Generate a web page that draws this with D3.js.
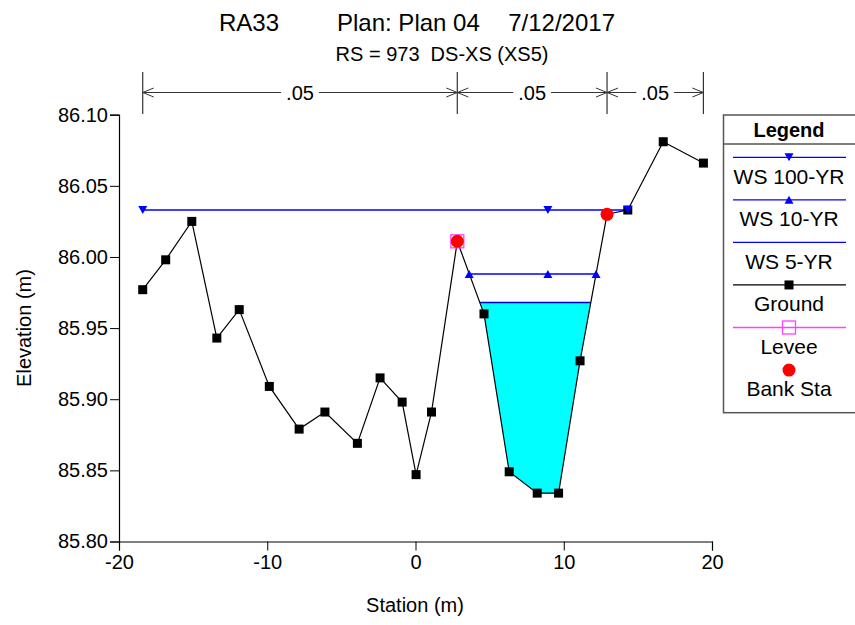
<!DOCTYPE html>
<html><head><meta charset="utf-8">
<script src="https://cdn.jsdelivr.net/npm/d3@7"></script>
<style>body{margin:0;background:#fff} text{font-family:"Liberation Sans",Arial,sans-serif}</style>
</head><body>
<svg id="c" width="855" height="625"></svg>
<script>
// ---- data ----
const groundStation=[-18.40,-16.85,-15.09,-13.40,-11.89,-9.86,-7.85,-6.11,-3.92,-2.39,-0.90,0.04,1.08,2.82,4.62,6.32,8.21,9.65,11.10,12.92,14.32,16.71,19.42];
const groundElev=[85.977,85.998,86.025,85.943,85.963,85.909,85.879,85.891,85.869,85.915,85.898,85.847,85.891,86.011,85.960,85.849,85.834,85.834,85.927,86.030,86.033,86.081,86.066];
const wsNames=["WS 100-YR","WS 10-YR","WS 5-YR"];
const wsElev=[86.033,85.988,85.968];
const wsStart=[-18.40,3.62,4.33];
const wsEnd=[14.32,12.18,11.83];
const wsMarkerStations=[[-18.40,8.93,14.32],[3.62,8.93,12.18],[]];
const wsMarkerType=["down","up","none"];
const leveeStation=[2.82];
const leveeElev=[86.011];
const bankStation=[2.82,12.92];
const bankElev=[86.011,86.030];
const nStations=[-18.40,2.82,12.92,19.42];
const nValues=[".05",".05",".05"];
const xTicks=[-20,-10,0,10,20];
const yTicks=[85.80,85.85,85.90,85.95,86.00,86.05,86.10];
const legendNames=["WS 100-YR","WS 10-YR","WS 5-YR","Ground","Levee","Bank Sta"];

// ---- setup ----
const svg=d3.select("#c");
const x=d3.scaleLinear().domain([-20,20]).range([119,712]);
const y=d3.scaleLinear().domain([85.80,86.10]).range([541.5,114.7]);
const FONT=20;

// titles
svg.append("text").attr("x",219).attr("y",31).attr("font-size",24).text("RA33");
svg.append("text").attr("x",337).attr("y",31).attr("font-size",24).text("Plan: Plan 04");
svg.append("text").attr("x",615).attr("y",31).attr("font-size",24).attr("text-anchor","end").text("7/12/2017");
svg.append("text").attr("x",442).attr("y",61).attr("font-size",20).attr("text-anchor","middle")
  .style("white-space","pre").attr("xml:space","preserve").text("RS = 973  DS-XS (XS5)");

// axes
const minorX=d3.range(-20,20.001,2);
const minorY=d3.range(0,31).map(i=>85.80+i*0.01);
const gx=svg.append("g").attr("transform",`translate(0,${y.range()[0]})`);
gx.call(d3.axisBottom(x).tickValues(minorX).tickSize(6).tickFormat(""));
gx.call(d3.axisBottom(x).tickValues(xTicks).tickSize(9).tickPadding(4).tickFormat(d=>String(d)));
const gy=svg.append("g").attr("transform",`translate(${x.range()[0]},0)`);
gy.call(d3.axisLeft(y).tickValues(minorY).tickSize(6).tickFormat(""));
gy.call(d3.axisLeft(y).tickValues(yTicks).tickSize(9).tickPadding(2).tickFormat(d=>d.toFixed(2)));
svg.selectAll(".domain").attr("stroke","#000").attr("stroke-width",1.2);
svg.selectAll(".tick line").attr("stroke","#000");
svg.selectAll(".tick text").attr("font-size",FONT).attr("font-family","Liberation Sans, Arial, sans-serif").attr("fill","#000");

svg.append("text").attr("x",415).attr("y",612).attr("font-size",FONT).attr("text-anchor","middle").text("Station (m)");
svg.append("text").attr("transform","translate(31,328) rotate(-90)").attr("font-size",FONT).attr("text-anchor","middle").text("Elevation (m)");

// n-value annotations
const nG=svg.append("g");
const cy=92.5;
nStations.forEach(s=>{
  nG.append("line").attr("x1",x(s)).attr("x2",x(s)).attr("y1",72).attr("y2",114).attr("stroke","#333").attr("stroke-width",1.2);
});
nValues.forEach((v,i)=>{
  const x1=x(nStations[i]), x2=x(nStations[i+1]), cx=(x1+x2)/2;
  const t=nG.append("text").attr("x",cx).attr("y",cy).attr("dy","0.35em").attr("font-size",FONT).attr("text-anchor","middle").text(v);
  const w=t.node().getComputedTextLength();
  nG.append("line").attr("x1",x1).attr("x2",cx-w/2-5).attr("y1",cy).attr("y2",cy).attr("stroke","#333");
  nG.append("line").attr("x1",cx+w/2+5).attr("x2",x2).attr("y1",cy).attr("y2",cy).attr("stroke","#333");
  nG.append("path").attr("d",`M${x1+11},${cy-4.5}L${x1},${cy}L${x1+11},${cy+4.5}`).attr("fill","none").attr("stroke","#333");
  nG.append("path").attr("d",`M${x2-11},${cy-4.5}L${x2},${cy}L${x2-11},${cy+4.5}`).attr("fill","none").attr("stroke","#333");
});

// cyan water fill (WS 5-YR)
const a=wsStart[2], b=wsEnd[2], e=wsElev[2];
const inner=groundStation.map((s,i)=>[s,groundElev[i]]).filter(p=>p[0]>a&&p[0]<b).reverse();
const poly=[[a,e],[b,e],...inner];
svg.append("path").attr("d",d3.line().x(p=>x(p[0])).y(p=>y(p[1]))(poly)+"Z").attr("fill","#00FFFF");

// WS lines
wsElev.forEach((el,i)=>{
  svg.append("line").attr("x1",x(wsStart[i])).attr("x2",x(wsEnd[i])).attr("y1",y(el)).attr("y2",y(el))
    .attr("stroke",i===2?"#0000CC":"#0000FF").attr("stroke-width",1.4);
});

// ground line
const gpts=groundStation.map((s,i)=>[s,groundElev[i]]);
svg.append("path").attr("d",d3.line().x(p=>x(p[0])).y(p=>y(p[1]))(gpts)).attr("fill","none").attr("stroke","#000").attr("stroke-width",1.2);
svg.selectAll(".gm").data(gpts).enter().append("rect").attr("class","gm")
  .attr("x",p=>x(p[0])-4.5).attr("y",p=>y(p[1])-4.5).attr("width",9).attr("height",9).attr("fill","#000");

// levee
svg.selectAll(".lv").data(leveeStation).enter().append("rect").attr("class","lv")
  .attr("x",(s)=>x(s)-6.5).attr("y",(s,i)=>y(leveeElev[i])-6.5).attr("width",13).attr("height",13)
  .attr("fill","none").attr("stroke","#FF40FF").attr("stroke-width",1.3);

// bank stations
svg.selectAll(".bk").data(bankStation).enter().append("circle").attr("class","bk")
  .attr("cx",s=>x(s)).attr("cy",(s,i)=>y(bankElev[i])).attr("r",6.5).attr("fill","#FF0000");

// WS markers
function tri(cx,cyy,type){
  const h=8,w=4.5;
  return type==="down"?`M${cx-w},${cyy-h/2}L${cx+w},${cyy-h/2}L${cx},${cyy+h/2}Z`:`M${cx-w},${cyy+h/2}L${cx+w},${cyy+h/2}L${cx},${cyy-h/2}Z`;
}
wsMarkerStations.forEach((arr,i)=>{
  arr.forEach(s=>{
    svg.append("path").attr("d",tri(x(s),y(wsElev[i]),wsMarkerType[i])).attr("fill","#0000FF");
  });
});

// legend
const L=svg.append("g");
L.append("rect").attr("x",723.5).attr("y",115).attr("width",200).attr("height",297.7).attr("fill","#fff").attr("stroke","#555").attr("stroke-width",1.5);
L.append("line").attr("x1",723.5).attr("x2",855).attr("y1",144).attr("y2",144).attr("stroke","#555").attr("stroke-width",1.5);
L.append("text").attr("x",789).attr("y",129.5).attr("dy","0.35em").attr("font-size",20).attr("font-weight","bold").attr("text-anchor","middle").text("Legend");
legendNames.forEach((n,i)=>{
  const ly=157.3+i*42.55;
  const lx=789;
  if(i<3){
    L.append("line").attr("x1",733).attr("x2",846).attr("y1",ly).attr("y2",ly).attr("stroke","#0000FF").attr("stroke-width",1.3);
    if(wsMarkerType[i]!=="none") L.append("path").attr("d",tri(lx,ly,wsMarkerType[i])).attr("fill","#0000FF");
  } else if(i===3){
    L.append("line").attr("x1",733).attr("x2",846).attr("y1",ly).attr("y2",ly).attr("stroke","#000").attr("stroke-width",1.2);
    L.append("rect").attr("x",lx-4.5).attr("y",ly-4.5).attr("width",9).attr("height",9).attr("fill","#000");
  } else if(i===4){
    L.append("line").attr("x1",733).attr("x2",846).attr("y1",ly).attr("y2",ly).attr("stroke","#FF40FF").attr("stroke-width",1.3);
    L.append("rect").attr("x",lx-6.5).attr("y",ly-6.5).attr("width",13).attr("height",13).attr("fill","none").attr("stroke","#FF40FF").attr("stroke-width",1.3);
  } else {
    L.append("circle").attr("cx",lx).attr("cy",ly).attr("r",6.5).attr("fill","#FF0000");
  }
  L.append("text").attr("x",lx).attr("y",ly+19).attr("dy","0.35em").attr("font-size",21).attr("text-anchor","middle").text(n);
});
</script>
</body></html>
